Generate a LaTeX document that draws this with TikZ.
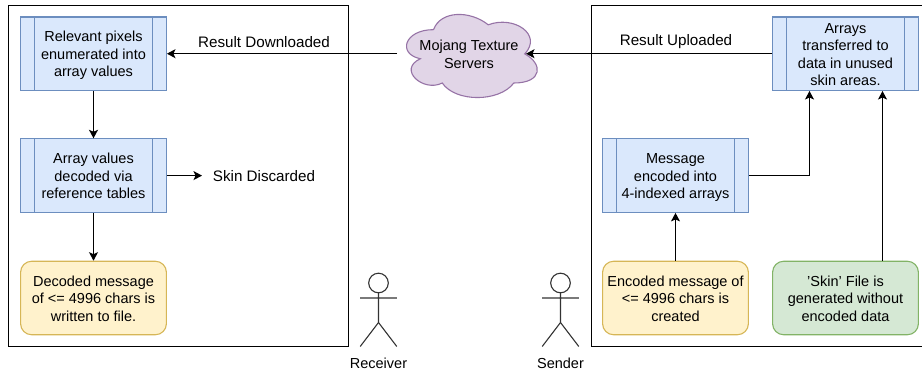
\documentclass[tikz,border=0pt]{standalone}
\usepackage{fontspec}
\setmainfont{Liberation Sans}
\usetikzlibrary{arrows.meta}
\definecolor{bfill}{HTML}{DAE8FC}\definecolor{bline}{HTML}{6C8EBF}
\definecolor{yfill}{HTML}{FFF2CC}\definecolor{yline}{HTML}{D6B656}
\definecolor{gfill}{HTML}{D5E8D4}\definecolor{gline}{HTML}{82B366}
\definecolor{pfill}{HTML}{E1D5E7}\definecolor{pline}{HTML}{9673A6}
\newcommand{\tstr}{\rule{0pt}{15pt}}
\newcommand{\bstr}{\rule[-3.5pt]{0pt}{3.5pt}}
\tikzset{
  base/.style={minimum width=145.8pt,minimum height=73.5pt,inner sep=0pt,align=center,line width=1.1pt,
    font=\fontsize{14.5}{17.5}\selectfont},
  procbox/.style={base,draw=bline,fill=bfill},
  yelbox/.style={base,draw=yline,fill=yfill,rounded corners=11pt},
  grnbox/.style={base,draw=gline,fill=gfill,rounded corners=11pt},
  lbl/.style={inner sep=0pt,font=\fontsize{14.5}{17.5}\selectfont,align=center},
  bigl/.style={inner sep=0pt,font=\fontsize{15.2}{18}\selectfont,align=center},
  conn/.style={line width=1.1pt,-{Stealth[length=8.5pt,width=9pt,inset=2pt]}},
  frameline/.style={line width=1.1pt,draw=black},
  actorline/.style={line width=1.1pt,draw=black!80}
}
\begin{document}
\begin{tikzpicture}[x=1pt,y=-1pt]
\useasboundingbox (0,0) rectangle (922,373);
% frames
\draw[frameline] (8.5,5.5) rectangle (348.5,346.5);
\draw[frameline] (922,5.5) -- (591.5,5.5) -- (591.5,346.5) -- (922,346.5);
% cloud
\begin{scope}[shift={(397,5.4)},x=146pt,y=-97pt]
\draw[draw=pline,fill=pfill,line width=1.1pt]
 (0.25,0.25) .. controls (0.05,0.25) and (0,0.5) .. (0.16,0.55)
 .. controls (0,0.66) and (0.18,0.9) .. (0.31,0.8)
 .. controls (0.4,1) and (0.7,1) .. (0.8,0.8)
 .. controls (1,0.8) and (1,0.6) .. (0.875,0.5)
 .. controls (1,0.3) and (0.8,0.1) .. (0.625,0.2)
 .. controls (0.5,0.05) and (0.3,0.05) .. (0.25,0.25) -- cycle;
\end{scope}
\node[lbl] (cloud) at (469,54.5) {Mojang Texture\\Servers};
\coordinate (cloudL) at (397,53.7);
\coordinate (cloudR) at (526,53.7);
% left column
\node[procbox] (pixels) at (93.5,53.7) {\tstr Relevant pixels\\enumerated into\\array values\bstr};
\node[procbox] (decode) at (93.5,175.6) {\tstr Array values\\decoded via\\reference tables\bstr};
\node[yelbox] (written) at (93.5,298) {\tstr Decoded message\\of <= 4996 chars is\\written to file.\bstr};
% right column
\node[procbox] (transfer) at (845.5,53.7) {\tstr Arrays\\transferred to\\data in unused\\skin areas.\bstr};
\node[procbox] (encode) at (675.5,175.6) {\tstr Message\\encoded into\\4-indexed arrays\bstr};
\node[yelbox] (created) at (675.5,298) {\tstr Encoded message of\\<= 4996 chars is\\created\bstr};
\node[grnbox] (skin) at (845.5,298) {\tstr 'Skin' File is\\generated without\\encoded data\bstr};
% process inner rules
\foreach \n in {pixels,decode,transfer,encode}{
  \draw[draw=bline,line width=1.1pt] ([xshift=14.6pt]\n.north west) -- ([xshift=14.6pt]\n.south west);
  \draw[draw=bline,line width=1.1pt] ([xshift=-14.6pt]\n.north east) -- ([xshift=-14.6pt]\n.south east);
}
% labels
\node[bigl] (down) at (264,42) {Result Downloaded};
\node[bigl] (up) at (676,42) {Result Uploaded};
\node[bigl] (disc) at (264,176) {Skin Discarded};
\coordinate (discEnd) at (202,175.6);
% connectors
\draw[conn] (cloudL) -- (pixels.east);
\draw[conn] (transfer.west) -- (cloudR);
\draw[conn] (pixels.south) -- (decode.north);
\draw[conn] (decode.south) -- (written.north);
\draw[conn] (decode.east) -- (discEnd);
\draw[conn] (created.north) -- (encode.south);
\draw[conn] (encode.east) -| ([xshift=-36pt]transfer.south);
\draw[conn] ([xshift=37pt]skin.north) -- ([xshift=37pt]transfer.south);
% actors
\foreach \cx/\nm/\txt in {378.5/recv/Receiver,560.5/send/Sender}{
  \draw[actorline] (\cx,283) circle (9.8);
  \draw[actorline] (\cx,293) -- (\cx,322.5) (\cx-18.3,298) -- (\cx+18.3,298)
     (\cx-18.3,346.5) -- (\cx,322.5) -- (\cx+18.3,346.5);
  \node[lbl] (\nm) at (\cx,363) {\txt};
}
\end{tikzpicture}
\end{document}
